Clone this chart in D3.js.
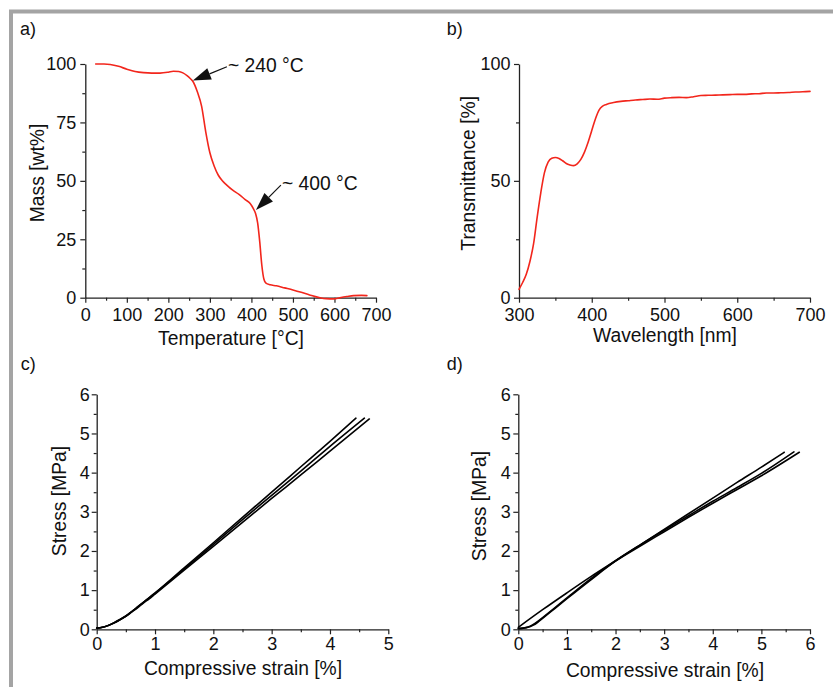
<!DOCTYPE html>
<html><head><meta charset="utf-8">
<script src="https://cdn.jsdelivr.net/npm/d3@7"></script>
<style>
body{margin:0;background:#fff}
svg{display:block}
text{font-family:"Liberation Sans",Arial,Helvetica,sans-serif;fill:#111}
</style>
</head><body>
<svg id="chart" width="833" height="687"></svg>
<script>
// ---------- DATA ----------
// a) TGA
const tgaTemp = [25,45,60,80,100,120,140,160,180,200,212,225,235,245,252,260,270,280,290,300,310,320,330,340,355,370,385,397,405,410,415,420,425,430,435,445,460,480,500,520,540,565,580,598,613,630,646,665,678];
const tgaMass = [100,100,99.8,99,97.8,96.8,96.3,96.1,96.1,96.5,96.9,96.8,96.2,95,93.9,92.3,88,82,71,62,56.5,52.5,50,48.3,46,44.2,42,40.3,38,36,32,24,14,8,6.2,5.5,5.1,4.2,3.3,2.3,1.2,0,-0.4,-0.5,0,0.5,0.9,1,0.9];
const tgaXTicks = [0,100,200,300,400,500,600,700];
const tgaYTicks = [0,25,50,75,100];
const tgaNotes = ["~ 240 °C", "~ 400 °C"];
const tgaNoteTipT = [259, 411];
const tgaNoteTipM = [92.9, 37.5];
const tgaNoteTailT = [341, 471];
const tgaNoteTailM = [98.8, 48.2];

// b) UV-Vis transmittance
const uvWave = [300,305,310,315,320,325,330,335,340,345,350,355,360,365,370,375,380,385,390,395,400,405,410,415,420,430,440,450,460,470,480,490,500,510,520,530,540,550,560,570,580,590,600,610,620,630,640,650,660,670,680,690,700];
const uvTrans = [3.6,6.5,10,15.5,23,34.5,45,53.5,58,59.7,60,59.6,58.6,57.4,56.8,56.5,57.3,59.2,62.3,66.5,71.5,76.5,80.3,82,82.7,83.5,84,84.3,84.6,84.8,85,84.9,85.4,85.6,85.7,85.6,86.0,86.5,86.6,86.7,86.8,86.9,87.0,87.0,87.2,87.3,87.6,87.6,87.7,87.8,88.0,88.1,88.3];
const uvXTicks = [300,400,500,600,700];
const uvYTicks = [0,50,100];

// c) compressive stress-strain, sample set 1
const c1Strain = [0,0.1,0.2,0.3,0.4,0.5,0.6,0.7,0.8,0.9,1.0,1.5,2,2.5,3,3.5,4,4.445];
const c1Stress = [0.03,0.05,0.1,0.17,0.25,0.34,0.45,0.57,0.69,0.81,0.93,1.57,2.21,2.86,3.5,4.15,4.8,5.39];
const c2Strain = [0,0.1,0.2,0.3,0.4,0.5,0.6,0.7,0.8,0.9,1.0,1.5,2,2.5,3,3.5,4,4.59];
const c2Stress = [0.03,0.05,0.1,0.17,0.25,0.34,0.45,0.57,0.69,0.8,0.92,1.54,2.17,2.8,3.42,4.04,4.67,5.39];
const c3Strain = [0,0.1,0.2,0.3,0.4,0.5,0.6,0.7,0.8,0.9,1.0,1.5,2,2.5,3,3.5,4,4.675];
const c3Stress = [0.03,0.05,0.1,0.16,0.24,0.33,0.44,0.55,0.67,0.78,0.9,1.51,2.12,2.73,3.34,3.94,4.55,5.37];
const cXTicks = [0,1,2,3,4,5];
const cYTicks = [0,1,2,3,4,5,6];

// d) compressive stress-strain, sample set 2
const d1Strain = [0,0.5,1,1.5,2,2.5,3,3.5,4,4.5,5,5.47];
const d1Stress = [0.05,0.5,0.93,1.35,1.75,2.15,2.55,2.95,3.35,3.75,4.14,4.52];
const d2Strain = [0,0.1,0.2,0.3,0.4,0.5,0.75,1,1.5,2,2.5,3,3.5,4,4.5,5,5.67];
const d2Stress = [0.02,0.03,0.06,0.12,0.2,0.3,0.55,0.8,1.3,1.75,2.15,2.53,2.9,3.27,3.62,3.98,4.53];
const d3Strain = [0,0.1,0.2,0.3,0.4,0.5,0.75,1,1.5,2,2.5,3,3.5,4,4.5,5,5.78];
const d3Stress = [0.02,0.03,0.05,0.1,0.18,0.28,0.53,0.78,1.27,1.74,2.12,2.49,2.86,3.22,3.57,3.92,4.52];
const dXTicks = [0,1,2,3,4,5,6];
const dYTicks = [0,1,2,3,4,5,6];

const zip = (xs, ys) => xs.map((v, i) => [v, ys[i]]);

// ---------- DRAW ----------
const svg = d3.select('#chart');
const FONT = 18;
const TFONT = 19.3;
const AXIS = '#222';

// outer frame (top and left edges visible)
svg.append('rect').attr('x', 11).attr('y', 11.5).attr('width', 900).attr('height', 800)
  .attr('fill', 'none').attr('stroke', '#a4a4a4').attr('stroke-width', 4);

function minorBetween(ticks) {
  const out = [];
  for (let i = 0; i < ticks.length - 1; i++) out.push((ticks[i] + ticks[i + 1]) / 2);
  return out;
}

function panel(o) {
  const x = d3.scaleLinear().domain(o.xDomain).range([o.left, o.right]);
  const y = d3.scaleLinear().domain(o.yDomain).range([o.bottom, o.top]);
  const g = svg.append('g');

  // minor ticks
  g.append('g').attr('transform', `translate(0,${o.bottom})`)
    .call(d3.axisBottom(x).tickValues(minorBetween(o.xTicks)).tickSize(3).tickSizeOuter(0).tickFormat(''))
    .call(s => s.select('.domain').remove());
  g.append('g').attr('transform', `translate(${o.left},0)`)
    .call(d3.axisLeft(y).tickValues(minorBetween(o.yTicks)).tickSize(3).tickSizeOuter(0).tickFormat(''))
    .call(s => s.select('.domain').remove());

  // major axes
  const xa = g.append('g').attr('transform', `translate(0,${o.bottom})`)
    .call(d3.axisBottom(x).tickValues(o.xTicks).tickSize(5).tickSizeOuter(0).tickPadding(o.xPad).tickFormat(d3.format('d')));
  const ya = g.append('g').attr('transform', `translate(${o.left},0)`)
    .call(d3.axisLeft(y).tickValues(o.yTicks).tickSize(5).tickSizeOuter(0).tickPadding(o.yPad).tickFormat(d3.format('d')));
  [xa, ya].forEach(a => {
    a.selectAll('text').attr('font-size', FONT).attr('font-family', '"Liberation Sans",Arial,sans-serif').attr('fill', '#111');
    a.selectAll('line').attr('stroke', AXIS).attr('stroke-width', 1.2);
    a.select('.domain').attr('stroke', AXIS).attr('stroke-width', 1.3);
  });
  g.selectAll('.tick line').attr('stroke', AXIS).attr('stroke-width', 1.2);

  // series
  const line = d3.line().x(d => x(d[0])).y(d => y(d[1])).curve(d3.curveMonotoneX);
  o.series.forEach(s => {
    g.append('path').datum(s.data).attr('d', line)
      .attr('fill', 'none').attr('stroke', s.color).attr('stroke-width', s.width || 1.6)
      .attr('stroke-linejoin', 'round').attr('stroke-linecap', 'round');
  });

  // axis titles
  g.append('text').attr('x', o.xTitlePos[0]).attr('y', o.xTitlePos[1])
    .attr('text-anchor', 'middle').attr('font-size', TFONT).text(o.xTitle);
  g.append('text').attr('transform', `translate(${o.yTitlePos[0]},${o.yTitlePos[1]}) rotate(-90)`)
    .attr('text-anchor', 'middle').attr('font-size', TFONT).text(o.yTitle);
  // panel label
  g.append('text').attr('x', o.labelPos[0]).attr('y', o.labelPos[1])
    .attr('font-size', FONT).text(o.label);

  return { g, x, y };
}

// a)
const pa = panel({
  left: 85.3, right: 376, top: 64, bottom: 297.7,
  xDomain: [0, 700], yDomain: [0, 100], xTicks: tgaXTicks, yTicks: tgaYTicks,
  xPad: 6, yPad: 4,
  series: [{ data: zip(tgaTemp, tgaMass), color: '#f2261c' }],
  xTitle: 'Temperature [°C]', xTitlePos: [231, 345],
  yTitle: 'Mass [wt%]', yTitlePos: [43.5, 173],
  label: 'a)', labelPos: [20, 35]
});
// annotations on a)
tgaNotes.forEach((txt, i) => {
  const tx = pa.x(tgaNoteTipT[i]), ty = pa.y(tgaNoteTipM[i]);
  const sx = pa.x(tgaNoteTailT[i]), sy = pa.y(tgaNoteTailM[i]);
  const ang = Math.atan2(ty - sy, tx - sx);
  const L = 18, W = 6;
  const bx = tx - L * Math.cos(ang), by = ty - L * Math.sin(ang);
  pa.g.append('line').attr('x1', sx).attr('y1', sy).attr('x2', bx).attr('y2', by)
    .attr('stroke', '#111').attr('stroke-width', 1.2);
  const px = -Math.sin(ang) * W, py = Math.cos(ang) * W;
  pa.g.append('path')
    .attr('d', `M${tx},${ty}L${bx + px},${by + py}L${bx - px},${by - py}Z`)
    .attr('fill', '#111');
  pa.g.append('text').attr('x', sx + 1).attr('y', sy + 5).attr('font-size', TFONT).text(txt);
});

// b)
panel({
  left: 519, right: 810, top: 64, bottom: 297.7,
  xDomain: [300, 700], yDomain: [0, 100], xTicks: uvXTicks, yTicks: uvYTicks,
  xPad: 6, yPad: 3.5,
  series: [{ data: zip(uvWave, uvTrans), color: '#f2261c' }],
  xTitle: 'Wavelength [nm]', xTitlePos: [665, 341.5],
  yTitle: 'Transmittance [%]', yTitlePos: [474.5, 173.3],
  label: 'b)', labelPos: [446.7, 35]
});

// c)
panel({
  left: 96.7, right: 388.3, top: 394.3, bottom: 629.3,
  xDomain: [0, 5], yDomain: [0, 6], xTicks: cXTicks, yTicks: cYTicks,
  xPad: 3, yPad: 2,
  series: [
    { data: zip(c1Strain, c1Stress), color: '#000' },
    { data: zip(c2Strain, c2Stress), color: '#000' },
    { data: zip(c3Strain, c3Stress), color: '#000' }
  ],
  xTitle: 'Compressive strain [%]', xTitlePos: [243, 675],
  yTitle: 'Stress [MPa]', yTitlePos: [66, 501],
  label: 'c)', labelPos: [20.7, 370]
});

// d)
panel({
  left: 518.3, right: 810, top: 394.3, bottom: 629.3,
  xDomain: [0, 6], yDomain: [0, 6], xTicks: dXTicks, yTicks: dYTicks,
  xPad: 3, yPad: 2.5,
  series: [
    { data: zip(d1Strain, d1Stress), color: '#000' },
    { data: zip(d2Strain, d2Stress), color: '#000' },
    { data: zip(d3Strain, d3Stress), color: '#000' }
  ],
  xTitle: 'Compressive strain [%]', xTitlePos: [665, 676.5],
  yTitle: 'Stress [MPa]', yTitlePos: [486, 506],
  label: 'd)', labelPos: [446.7, 370]
});
</script>
</body></html>
